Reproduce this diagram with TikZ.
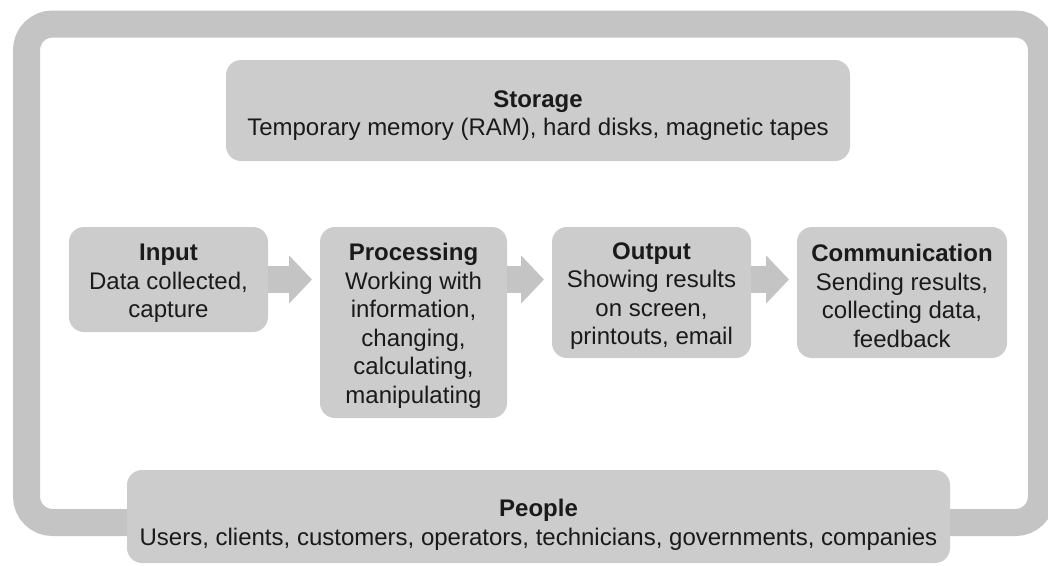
\documentclass[tikz,border=0pt]{standalone}
\usepackage{fontspec}
\setmainfont{Liberation Sans}
\usepackage{tikz}
\usetikzlibrary{arrows.meta}
\usepackage{xcolor}
\definecolor{bandgray}{HTML}{C4C4C4}
\definecolor{boxgray}{HTML}{CCCCCC}
\definecolor{textgray}{HTML}{1A1A1A}
\newcommand{\stagetitle}[2][24pt]{\rule{0pt}{#1}\textbf{#2}}
\begin{document}
\begin{tikzpicture}[x=1pt,y=-1pt]
  \tikzset{stagebox/.style={fill=boxgray,draw=none,rounded corners=15pt,inner sep=0pt,outer sep=0pt,align=center,text=textgray,font=\fontsize{24}{28.6}\selectfont}}
  \tikzset{loopband/.style={draw=bandgray,line width=27pt,rounded corners=26pt}}
  \tikzset{flowarrow/.style={draw=bandgray,line width=27pt,-{Triangle[length=23pt,width=47pt]},shorten >=8pt}}
  \useasboundingbox (0,0) rectangle (1048,565);
  \draw[loopband] (26.5,24) rectangle (1041.5,522.5);
  \node[stagebox,minimum width=624pt,minimum height=101pt] (storage) at (538,110.5) {\stagetitle[27pt]{Storage}\\Temporary memory (RAM), hard disks, magnetic tapes};
  \node[stagebox,minimum width=199pt,minimum height=105pt] (input) at (168.5,279.5) {\stagetitle{Input}\\Data collected,\\capture};
  \node[stagebox,minimum width=187pt,minimum height=191pt] (proc) at (413.5,322.5) {\stagetitle{Processing}\\Working with\\information,\\changing,\\calculating,\\manipulating};
  \node[stagebox,minimum width=199pt,minimum height=131pt] (output) at (651.5,292.5) {\stagetitle{Output}\\Showing results\\on screen,\\printouts, email};
  \node[stagebox,minimum width=210pt,minimum height=131pt] (comm) at (902,292.5) {\stagetitle{Communication}\\Sending results,\\collecting data,\\feedback};
  \node[stagebox,minimum width=823pt,minimum height=93pt] (people) at (538.5,516.5) {\stagetitle[34pt]{People}\\Users, clients, customers, operators, technicians, governments, companies};
  \draw[flowarrow] (input.east) -- (input.east -| proc.west);
  \draw[flowarrow] (input.east -| proc.east) -- (input.east -| output.west);
  \draw[flowarrow] (input.east -| output.east) -- (input.east -| comm.west);
\end{tikzpicture}
\end{document}
